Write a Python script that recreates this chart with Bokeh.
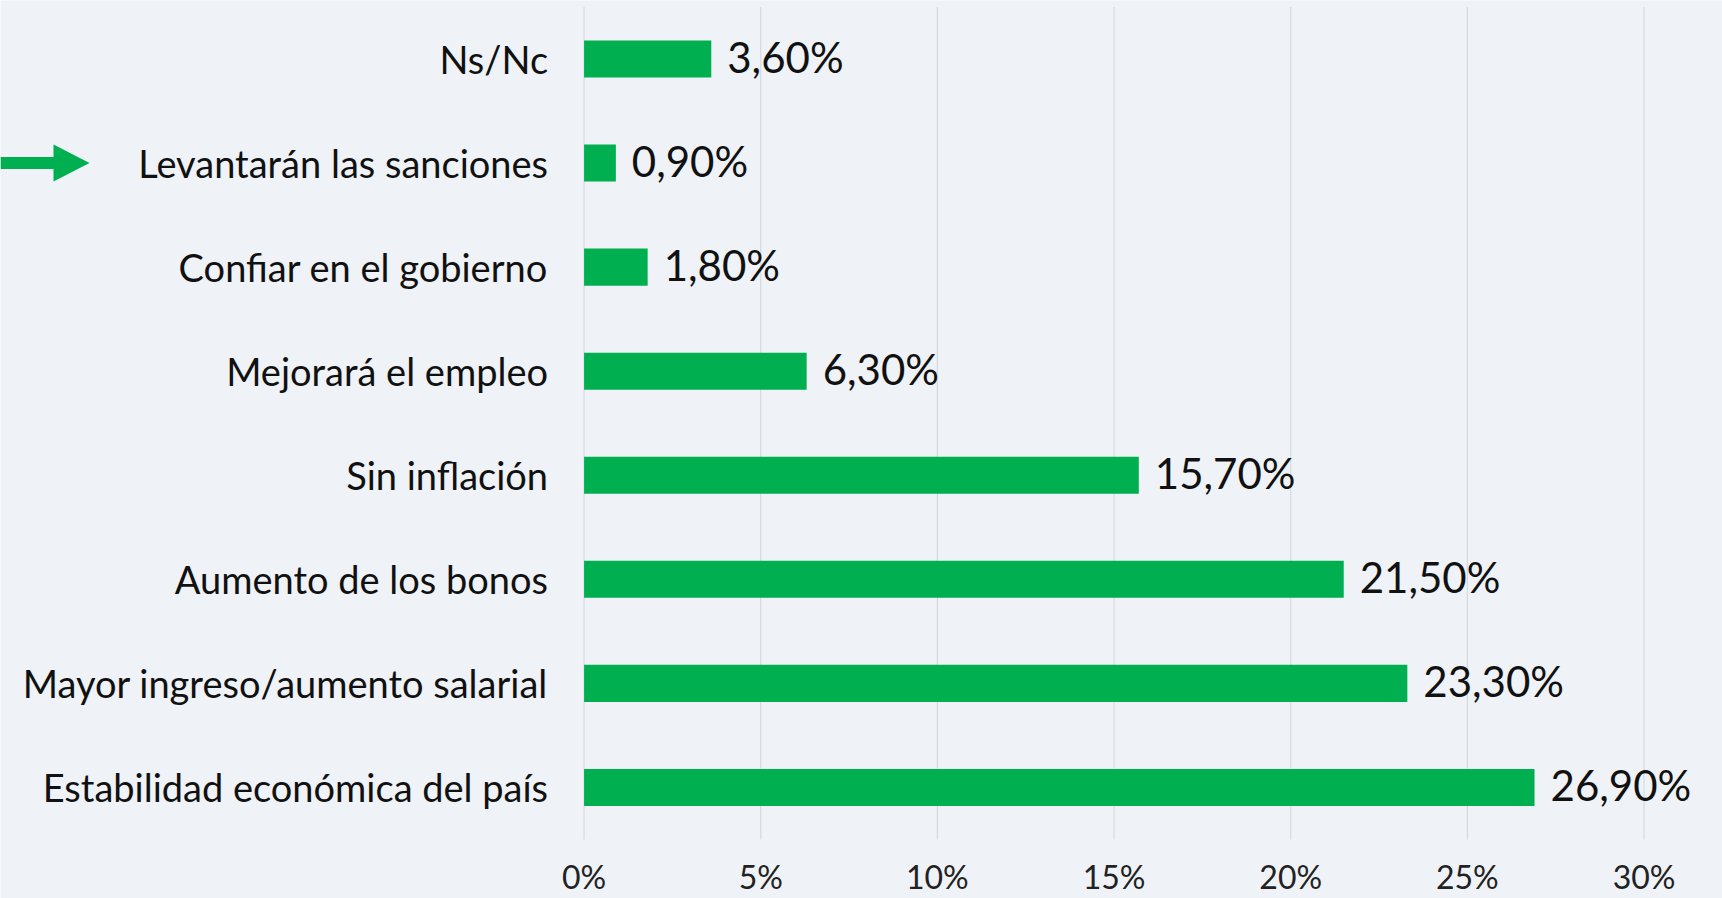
from bokeh.plotting import figure
from bokeh.models import Range1d, FixedTicker
from bokeh.core.properties import value
from bokeh.embed import file_html
from bokeh.resources import INLINE

# data (top to bottom in the chart)
categories = [
    "Ns/Nc",
    "Levantarán las sanciones",
    "Confiar en el gobierno",
    "Mejorará el empleo",
    "Sin inflación",
    "Aumento de los bonos",
    "Mayor ingreso/aumento salarial",
    "Estabilidad económica del país",
]
values = [3.6, 0.9, 1.8, 6.3, 15.7, 21.5, 23.3, 26.9]
x_ticks = [0, 5, 10, 15, 20, 25, 30]
x_tick_labels = ["0%", "5%", "10%", "15%", "20%", "25%", "30%"]
highlight = "Levantarán las sanciones"

FONT = "Lato"
GREEN = "#00b050"
BG = "#eff2f6"

n = len(categories)
ypos = [n - 1 - i for i in range(n)]          # top category highest
labels_txt = [f"{v:.2f}".replace(".", ",") + "%" for v in values]

X0, X1 = -16.516, 32.22
Y0, Y1 = -1.067, 7.562
PX_X = 35.33     # pixels per x unit
PX_Y = 104.07    # pixels per y unit

p = figure(width=1722, height=898, output_backend="svg", toolbar_location=None,
           x_range=Range1d(X0, X1), y_range=Range1d(Y0, Y1),
           min_border=0)
p.background_fill_color = BG
p.border_fill_color = BG
p.outline_line_color = None
p.xgrid.visible = False
p.ygrid.visible = False

# vertical gridlines
p.segment(x0=x_ticks, x1=x_ticks, y0=[-0.5] * len(x_ticks), y1=[7.5] * len(x_ticks),
          line_color="#d6dade", line_width=1.2)

# bars
p.hbar(y=ypos, right=values, left=0, height=0.356, fill_color=GREEN, line_color=None)

# value labels
p.text(x=values, y=ypos, text=labels_txt, x_offset=16, y_offset=-2, text_baseline="middle",
       text_align="left", text_font=value(FONT), text_font_size="42px", text_color="#111111")

# axes (drawn inside the frame)
xa = p.xaxis[0]
xa.fixed_location = -0.5
xa.ticker = FixedTicker(ticks=x_ticks)
xa.major_label_overrides = {t: l for t, l in zip(x_ticks, x_tick_labels)}
xa.axis_line_color = None
xa.major_tick_line_color = None
xa.minor_tick_line_color = None
xa.major_label_standoff = 12
xa.major_label_text_font = FONT
xa.major_label_text_font_size = "32px"
xa.major_label_text_color = "#222222"

ya = p.yaxis[0]
ya.fixed_location = 0
ya.ticker = FixedTicker(ticks=ypos)
ya.major_label_overrides = {y: c for y, c in zip(ypos, categories)}
ya.axis_line_color = None
ya.major_tick_line_color = None
ya.minor_tick_line_color = None
ya.major_label_standoff = 30
ya.major_label_text_font = FONT
ya.major_label_text_font_size = "38px"
ya.major_label_text_color = "#111111"

# arrow pointing at the highlighted category
hy = ypos[categories.index(highlight)]
px = 1 / PX_X
p.rect(x=[X0 + 28 * px], y=[hy], width=56 * px, height=12 / PX_Y,
       fill_color=GREEN, line_color=None)
p.patch(x=[X0 + 53 * px, X0 + 89 * px, X0 + 53 * px],
        y=[hy + 18.5 / PX_Y, hy, hy - 18.5 / PX_Y],
        fill_color=GREEN, line_color=None)

open("out.html", "w").write(file_html(p, INLINE))
